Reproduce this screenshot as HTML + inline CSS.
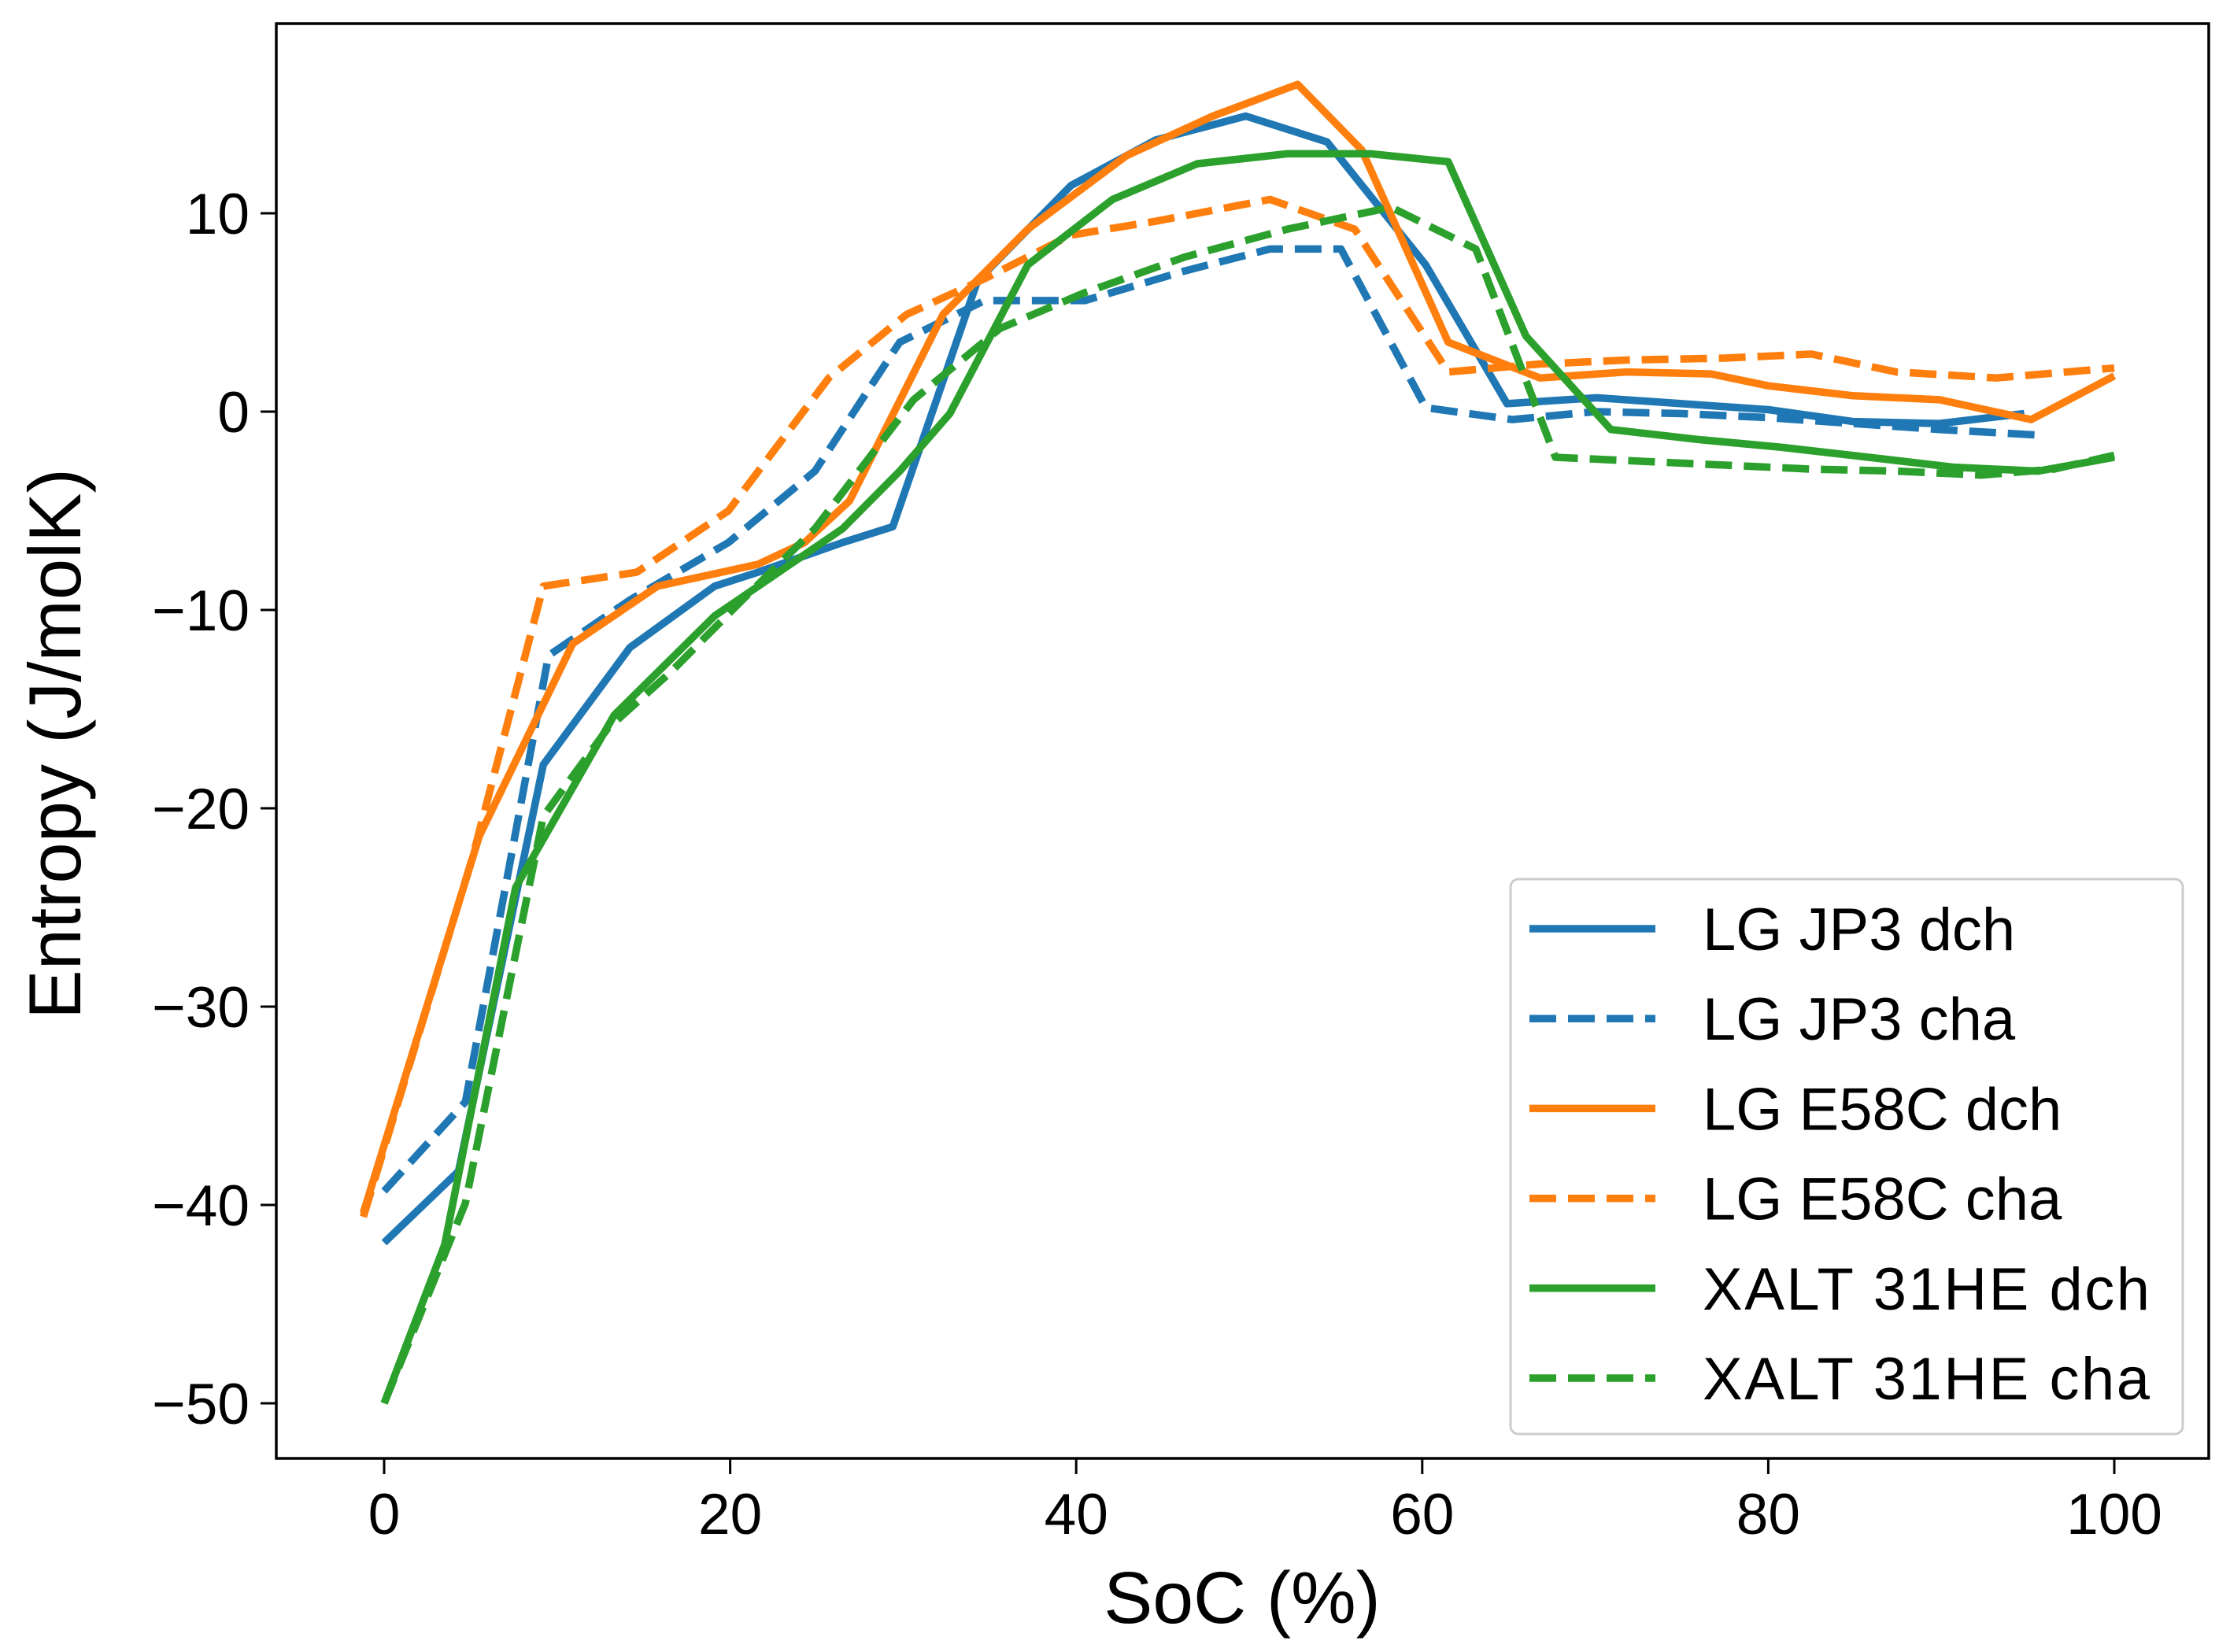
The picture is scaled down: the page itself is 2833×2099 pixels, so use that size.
<!DOCTYPE html>
<html><head><meta charset="utf-8"><style>
html,body{margin:0;padding:0;background:#fff;}
svg{display:block;font-family:"Liberation Sans","DejaVu Sans",sans-serif;}
</style></head><body>
<svg id="chart" width="2833" height="2099" viewBox="0 0 2833 2099" xmlns="http://www.w3.org/2000/svg">
<rect x="0" y="0" width="2833" height="2099" fill="#fff"/>
<g id="series"></g>
<g id="axes"></g>
<text x="1578" y="2062" font-size="93" text-anchor="middle">SoC (%)</text>
<text transform="translate(102,945) rotate(-90)" font-size="94" text-anchor="middle">Entropy (J/molK)</text>
<g id="legend"></g>
</svg>
<script>
const xTicks=[0,20,40,60,80,100];
const yTicks=[10,0,-10,-20,-30,-40,-50];
const seriesNames=["LG JP3 dch","LG JP3 cha","LG E58C dch","LG E58C cha","XALT 31HE dch","XALT 31HE cha"];
const jp3DchX=[0,4.3,9.2,14.2,19.1,21.6,26.5,29.4,34.3,39.7,44.6,49.8,54.5,60.2,64.9,70.1,75,80,84.9,89.9,94.8];
const jp3DchY=[-41.9,-38.3,-17.8,-11.9,-8.8,-8.1,-6.6,-5.8,6.6,11.4,13.7,14.9,13.6,7.4,0.4,0.7,0.4,0.1,-0.5,-0.6,-0.1];
const jp3ChaX=[0,4.7,9.5,14.2,19.9,24.9,29.8,34.7,40.5,46.3,51.2,55.3,60.2,65.2,70,75,80,84.9,89.9,95.9];
const jp3ChaY=[-39.3,-34.8,-12.3,-9.5,-6.6,-3.0,3.5,5.6,5.6,7.1,8.2,8.2,0.2,-0.4,0,-0.1,-0.3,-0.6,-0.9,-1.2];
const e58DchX=[-1.2,5.5,10.9,15.8,21.6,24.3,26.9,32.3,37.2,42.9,47.9,52.8,56.5,61.5,66.8,71.8,76.7,80,84.9,89.9,95.2,100];
const e58DchY=[-40.4,-21.4,-11.7,-8.8,-7.7,-6.6,-4.5,4.9,9.2,12.9,14.9,16.5,13.2,3.5,1.7,2.0,1.9,1.3,0.8,0.6,-0.4,1.8];
const e58ChaX=[-1.2,5.1,9.2,14.6,19.9,25.7,30.2,34.7,39.7,44.6,51.2,56.1,61.5,66.8,71.8,77.5,82.5,87.4,93.2,100];
const e58ChaY=[-40.6,-22.5,-8.8,-8.1,-5.0,1.7,4.9,6.7,8.9,9.6,10.7,9.2,2.0,2.4,2.6,2.7,2.9,2.0,1.7,2.2];
const xaltDchX=[0,3.5,7.6,13.3,19.1,26.5,29.8,32.7,37.2,42.1,47,52.2,57,61.5,66,70.9,75.9,80.8,85.8,90.7,95.6,100];
const xaltDchY=[-50,-42,-24,-15.3,-10.3,-5.9,-3.0,-0.1,7.4,10.7,12.5,13,13,12.6,3.8,-0.9,-1.4,-1.8,-2.3,-2.8,-3.0,-2.3];
const xaltChaX=[0,4.7,9.2,12.9,16.6,20.7,24.9,30.6,35.6,40.5,46.3,52.2,58.2,63.1,67.7,72.6,77.5,82.5,87.4,92.3,96.5,100];
const xaltChaY=[-50,-39.9,-20.4,-16,-13.1,-9.5,-5.9,0.6,4.2,6.0,7.8,9.2,10.3,8.2,-2.3,-2.5,-2.7,-2.9,-3.0,-3.2,-2.9,-2.2];

const NS="http://www.w3.org/2000/svg";
const L=351,R=2806,T=30,B=1853;
function sx(v){return 488+v*21.98;}
function sy(v){return 523-v*25.2;}
const styles=[["#1f77b4",false],["#1f77b4",true],["#ff7f0e",false],["#ff7f0e",true],["#2ca02c",false],["#2ca02c",true]];
const xs=[jp3DchX,jp3ChaX,e58DchX,e58ChaX,xaltDchX,xaltChaX];
const ys=[jp3DchY,jp3ChaY,e58DchY,e58ChaY,xaltDchY,xaltChaY];
const keys=["lg-jp3-dch","lg-jp3-cha","lg-e58c-dch","lg-e58c-cha","xalt-31he-dch","xalt-31he-cha"];
const sg=document.getElementById('series');
for(let i=0;i<6;i++){
  const p=document.createElementNS(NS,'polyline');
  p.setAttribute('points',xs[i].map((x,j)=>sx(x).toFixed(1)+','+sy(ys[i][j]).toFixed(1)).join(' '));
  p.setAttribute('fill','none');p.setAttribute('stroke',styles[i][0]);p.setAttribute('stroke-width','9.5');
  p.setAttribute('stroke-linejoin','round');
  if(styles[i][1])p.setAttribute('stroke-dasharray','34 15');
  
  
  p.id='line-'+keys[i];
  sg.appendChild(p);
}
const ax=document.getElementById('axes');
const frame=document.createElementNS(NS,'rect');
frame.setAttribute('x',L);frame.setAttribute('y',T);frame.setAttribute('width',R-L);frame.setAttribute('height',B-T);
frame.setAttribute('fill','none');frame.setAttribute('stroke','#000');frame.setAttribute('stroke-width','3.5');


ax.appendChild(frame);
xTicks.forEach(v=>{
  const t=document.createElementNS(NS,'line');
  t.setAttribute('x1',sx(v));t.setAttribute('x2',sx(v));t.setAttribute('y1',B);t.setAttribute('y2',B+20);
  t.setAttribute('stroke','#000');t.setAttribute('stroke-width','3');
  
  
  ax.appendChild(t);
  const s=document.createElementNS(NS,'text');
  s.setAttribute('x',sx(v));s.setAttribute('y',1949);s.setAttribute('font-size','73');s.setAttribute('text-anchor','middle');
  s.textContent=String(v);
  
  
  ax.appendChild(s);
});
yTicks.forEach(v=>{
  const t=document.createElementNS(NS,'line');
  t.setAttribute('x1',L-20);t.setAttribute('x2',L);t.setAttribute('y1',sy(v));t.setAttribute('y2',sy(v));
  t.setAttribute('stroke','#000');t.setAttribute('stroke-width','3');
  
  
  ax.appendChild(t);
  const s=document.createElementNS(NS,'text');
  s.setAttribute('x',L-34);s.setAttribute('y',sy(v)+26);s.setAttribute('font-size','73');s.setAttribute('text-anchor','end');
  s.textContent=v<0?'\u2212'+Math.abs(v):String(v);
  
  
  ax.appendChild(s);
});
const lg=document.getElementById('legend');
const box=document.createElementNS(NS,'rect');
box.setAttribute('x',1919);box.setAttribute('y',1117);box.setAttribute('width',854);box.setAttribute('height',705);
box.setAttribute('rx',10);box.setAttribute('fill','#fff');box.setAttribute('fill-opacity','0.8');
box.setAttribute('stroke','#ccc');box.setAttribute('stroke-width','3');


lg.appendChild(box);
for(let i=0;i<6;i++){
  const yy=1180+i*114.2;
  const l=document.createElementNS(NS,'line');
  l.setAttribute('x1',1943);l.setAttribute('x2',2103);l.setAttribute('y1',yy);l.setAttribute('y2',yy);
  l.setAttribute('stroke',styles[i][0]);l.setAttribute('stroke-width','9.5');
  if(styles[i][1])l.setAttribute('stroke-dasharray','34 15');
  
  
  lg.appendChild(l);
  const s=document.createElementNS(NS,'text');
  s.setAttribute('x',2163);s.setAttribute('y',yy+27);s.setAttribute('font-size','76');
  s.setAttribute('textLength', i>=4 ? (i==4?568:568) : null);
  s.textContent=seriesNames[i];
  
  
  lg.appendChild(s);
}
document.querySelectorAll('#legend text').forEach(t=>{if(t.getAttribute('textLength')==='null')t.removeAttribute('textLength');});
</script>
</body></html>
